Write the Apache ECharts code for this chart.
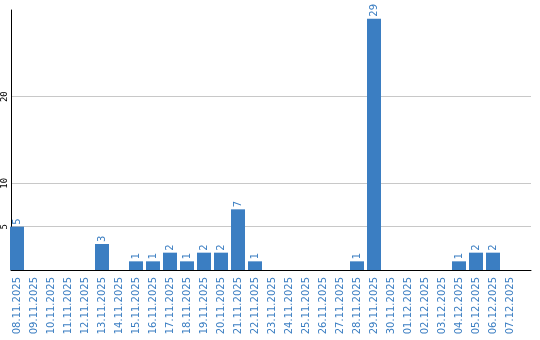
<!DOCTYPE html>
<html><head><meta charset="utf-8">
<script src="https://cdn.jsdelivr.net/npm/echarts@6/dist/echarts.min.js"></script>
<style>html,body{margin:0;padding:0;background:#fff}#c{width:540px;height:340px}</style>
</head><body><div id="c"></div>
<script>
const categories = ['08.11.2025','09.11.2025','10.11.2025','11.11.2025','12.11.2025','13.11.2025','14.11.2025','15.11.2025','16.11.2025','17.11.2025','18.11.2025','19.11.2025','20.11.2025','21.11.2025','22.11.2025','23.11.2025','24.11.2025','25.11.2025','26.11.2025','27.11.2025','28.11.2025','29.11.2025','30.11.2025','01.12.2025','02.12.2025','03.12.2025','04.12.2025','05.12.2025','06.12.2025','07.12.2025'];
const values = [5,0,0,0,0,3,0,1,1,2,1,2,2,7,1,0,0,0,0,0,1,29,0,0,0,0,1,2,2,0];
const gridValues = [5,10,20];
const yMax = 30;

const blue = '#3b7ec2';
const chart = echarts.init(document.getElementById('c'));
chart.setOption({
  animation: false,
  grid: [
    {left: 8.5, top: 10, width: 510, height: 260},
    {left: 10, top: 10, right: 9, height: 260}
  ],
  xAxis: [
    {gridIndex: 0, type: 'category', data: categories,
     axisLine: {show: false}, axisTick: {show: false},
     axisLabel: {rotate: 90, interval: 0, margin: 7, color: blue, fontSize: 10, fontFamily: 'DejaVu Sans'}},
    {gridIndex: 1, type: 'category', data: categories,
     axisLine: {show: true, lineStyle: {color: '#000', width: 1}}, axisTick: {show: false}, axisLabel: {show: false}}
  ],
  yAxis: [
    {gridIndex: 0, type: 'value', min: 0, max: yMax, show: false},
    {gridIndex: 1, type: 'value', min: 0, max: yMax, interval: 5,
     axisLine: {show: true, lineStyle: {color: '#000', width: 1}}, axisTick: {show: false},
     splitLine: {show: false},
     axisLabel: {rotate: 90, margin: 2, color: '#000', fontSize: 9, fontFamily: 'DejaVu Sans Mono',
       formatter: v => gridValues.indexOf(v) >= 0 ? String(v) : ''}}
  ],
  series: [
    {type: 'bar', xAxisIndex: 1, yAxisIndex: 1, data: categories.map(() => '-'), z: 0,
     markLine: {silent: true, symbol: 'none', label: {show: false}, z: 0,
       lineStyle: {color: '#c8c8c8', type: 'solid', width: 1},
       data: gridValues.map(v => ({yAxis: v}))}},
    {type: 'bar', xAxisIndex: 0, yAxisIndex: 0, data: values, barWidth: 14, z: 10,
     itemStyle: {color: blue},
     label: {show: true, position: 'top', rotate: 90, align: 'left', verticalAlign: 'middle', distance: 2,
       color: blue, fontSize: 10, fontFamily: 'DejaVu Sans',
       formatter: p => p.value ? String(p.value) : ''}}
  ]
});
</script></body></html>
